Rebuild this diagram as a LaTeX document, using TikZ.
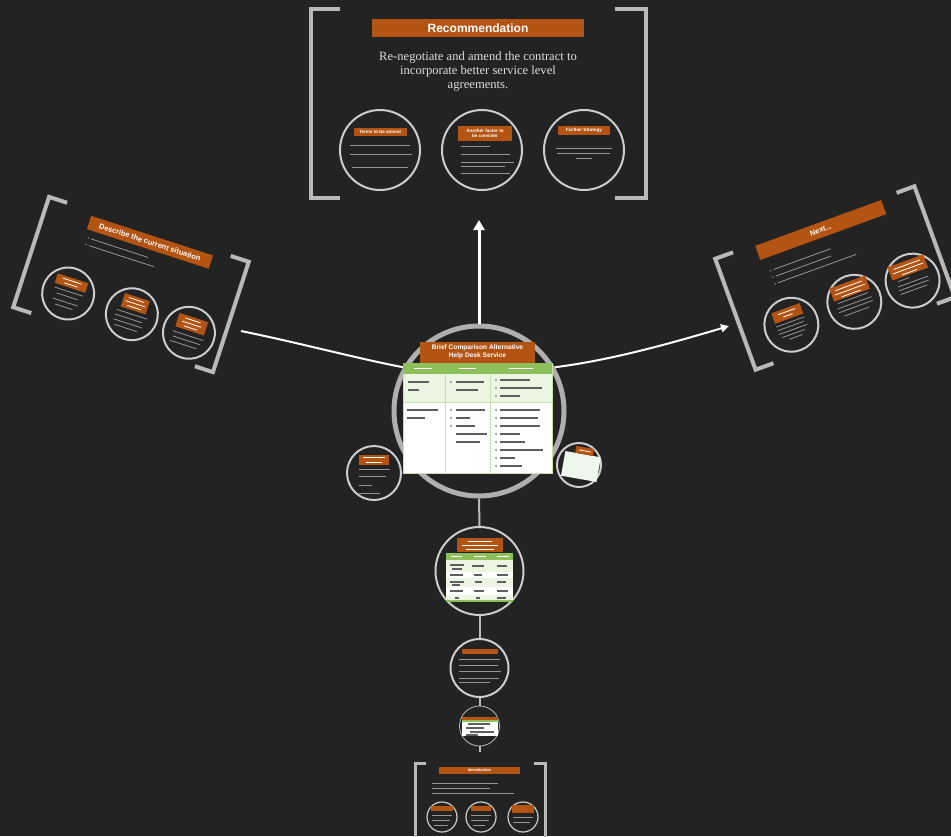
\documentclass[tikz,border=0pt]{standalone}
\usepackage{fontspec}
\setmainfont{Liberation Serif}
\setsansfont{Liberation Sans}
\usetikzlibrary{arrows.meta}
\definecolor{bg}{RGB}{35,35,35}
\definecolor{org}{RGB}{180,84,18}
\definecolor{brk}{RGB}{185,185,185}
\definecolor{ringc}{RGB}{205,205,205}
\definecolor{bigc}{RGB}{175,175,175}
\definecolor{grn}{RGB}{141,192,90}
\definecolor{lgrn}{RGB}{236,244,226}
\definecolor{lgb}{RGB}{200,225,175}
\definecolor{chalk}{RGB}{150,150,150}
\definecolor{ink}{RGB}{95,95,95}
\definecolor{body}{RGB}{222,222,222}
\definecolor{mint}{RGB}{238,246,238}
\newcommand\fs[2]{\fontsize{#1}{#2}\selectfont}
\newcommand\gl[2]{\foreach \a/\b/\c in {#2}{\draw[#1] (\a,\c) -- (\b,\c);}}
\newcommand\lab[4]{\fill[org] ({#1-#3/2},{#2-#4/2}) rectangle ({#1+#3/2},{#2+#4/2});}
\tikzset{
 brack/.style={draw=brk, line width=4pt},
 ring/.style={circle, draw=ringc, line width=2pt, minimum size=#1, inner sep=0pt},
 obar/.style={fill=org, text=white, inner sep=0pt, align=center},
 tline/.style={chalk, line width=0.8pt},
 wl/.style={white, line width=0.8pt},
 iline/.style={ink, line width=1.1pt},
 conn/.style={draw=brk, line width=2pt},
 wline/.style={draw=white, line width=2pt},
 arrw/.style={draw=white, line width=2pt, -{Triangle[width=8pt,length=8pt]}},
 arrup/.style={draw=white, line width=3pt, -{Triangle[width=11pt,length=10pt]}},
}
\begin{document}
\begin{tikzpicture}[x=1pt,y=-1pt]
\useasboundingbox (0,0) rectangle (951,836);
\fill[bg] (0,0) rectangle (951,836);
\clip (0,0) rectangle (951,836);

% ---------------- top frame: Recommendation
\draw[brack] (340,9) -- (311,9) -- (311,198) -- (340,198);
\draw[brack] (615,9) -- (646,9) -- (646,198) -- (615,198);
\node[obar, minimum width=212, minimum height=18, font=\sffamily\bfseries\fs{12}{14}] (rec) at (478,28) {Recommendation};
\node[text=body, font=\fs{12.6}{14}, align=center, inner sep=0pt] (rtxt) at (478,71) {Re-negotiate and amend the contract to\\incorporate better service level\\agreements.};
\node[ring=80] (t1) at (380,150) {};
\node[ring=80] (t2) at (482,150) {};
\node[ring=80] (t3) at (584,150) {};
\node[obar, minimum width=53, minimum height=8, font=\sffamily\bfseries\fs{4.6}{5.2}] (t1l) at (380,132) {Terms to be amend};
\node[obar, minimum width=54, minimum height=15, font=\sffamily\bfseries\fs{4.6}{5.4}] (t2l) at (485,133.5) {Another factor to\\be consider};
\node[obar, minimum width=52, minimum height=9, font=\sffamily\bfseries\fs{4.6}{5.2}] (t3l) at (584,130.5) {Further Strategy};
\gl{tline}{350/410/145, 350/412/154, 352/408/167}
\gl{tline}{461/490/146, 461/510/154, 461/514/162, 461/505/166, 461/510/173}
\gl{tline}{556/612/148, 557/610/153, 576/592/158}

% ---------------- central circle and connectors
\node[circle, draw=bigc, line width=5pt, minimum size=170, inner sep=0pt] (big) at (479,411) {};
\coordinate (up) at (479,220);
\draw[arrup] (big.north) -- (up);
\coordinate (lstart) at (241,331);
\draw[wline] (lstart) .. controls (300,343) and (355,358) .. (big.150);
\coordinate (rend) at (729,326);
\draw[arrw] (big.30) .. controls (612,360) and (672,343) .. (rend);

% ---------------- central table
\node[fill=white, draw=lgb, minimum width=149, minimum height=110, inner sep=0pt] (tab) at (477.5,418) {};
\fill[grn] (403,363) rectangle (552,374);
\fill[lgrn] (403.5,374) rectangle (551.5,402);
\draw[lgb, line width=1pt] (403,402) -- (552,402);
\draw[lgb, line width=0.8pt] (445,374) -- (445,472.5) (490,374) -- (490,472.5);
\gl{wl}{414/432/368.5, 459/476/368.5, 509/533/368.5}
\gl{iline}{408/429/382, 408/419/390}
\gl{iline}{456/484/382, 456/478/390}
\gl{iline}{500/530/380, 500/542/388, 500/520/396}
\gl{iline}{407/438/410, 407/425/418}
\gl{iline}{456/485/410, 456/470/418, 456/475/426, 456/487/434, 456/480/442}
\gl{iline}{500/540/410, 500/538/418, 500/540/426, 500/520/434, 500/525/442, 500/543/450, 500/515/458, 500/522/466}
\foreach \yy in {382} {\fill[ink] (451,\yy) circle (0.9);}
\foreach \yy in {380,388,396} {\fill[ink] (496,\yy) circle (0.9);}
\foreach \yy in {410,418,426} {\fill[ink] (451,\yy) circle (0.9);}
\foreach \yy in {410,418,426,434,442,450,458,466} {\fill[ink] (496,\yy) circle (0.9);}
\node[obar, minimum width=115, minimum height=21, font=\sffamily\bfseries\fs{6.6}{8.4}] (btitle) at (477.5,352) {Brief Comparison Alternative\\Help Desk Service};

% ---------------- side small circles
\node[ring=54] (ls) at (374,473) {};
\lab{374}{460}{30}{10}
\gl{wl}{363/385/457.5, 366/382/462}
\gl{tline}{359/390/469, 359/386/476, 359/372/485, 359/380/493}
\node[ring=44] (rs) at (579,465) {};
\begin{scope}[shift={(581,466)}, rotate=-10]
\fill[mint] (-18,-12) rectangle (18,13);
\fill[org] (-8,-19) rectangle (10,-12);
\draw[wl] (-5,-15.5) -- (7,-15.5);
\end{scope}

% ---------------- vertical chain
\node[ring=88] (comp) at (479.5,571) {};
\node[ring=58] (mid) at (479.5,668) {};
\node[circle, draw=gray!55, line width=0.8pt, minimum size=40, inner sep=0pt] (cring) at (479.5,726) {};
\node[fill=white, minimum width=36, minimum height=18, inner sep=0pt] (card) at (480,727) {};
\draw[conn] (big.south) -- (comp.north);
\draw[conn] (comp.south) -- (mid.north);
\draw[conn] (mid.south) -- (cring.north);
\coordinate (cend) at (479.5,752);
\draw[conn] (cring.south) -- (cend);
\fill[org] (462,717) rectangle (498,719.5);
\fill[grn] (462,719.5) rectangle (498,721.5);
\gl{iline}{468/490/724, 466/484/728, 470/494/732, 466/478/735}

% comparison circle contents
\lab{480}{545}{46}{14}
\gl{wl}{468/492/541, 462/498/545, 466/494/549}
\fill[white] (446,553) rectangle (513,602);
\fill[grn] (446,553) rectangle (513,560);
\fill[lgrn] (446,560) rectangle (513,572);
\fill[lgrn] (446,578) rectangle (513,587);
\fill[lgrn] (446,595) rectangle (513,600);
\fill[grn] (446,600) rectangle (513,602);
\gl{wl}{451/462/556.5, 474/486/556.5, 497/509/556.5}
\gl{iline}{450/464/565, 452/462/569, 472/484/566, 497/507/566}
\gl{iline}{450/463/575, 474/482/575, 497/508/575}
\gl{iline}{450/464/582, 452/460/585, 475/482/582, 497/506/582}
\gl{iline}{450/463/591, 474/484/591, 497/508/591}
\gl{iline}{455/459/598, 476/480/598, 497/506/598}

% middle circle contents
\lab{480}{651}{36}{5}
\gl{tline}{459/500/659, 459/498/665, 459/501/671, 459/499/678, 459/490/682}

% ---------------- bottom frame: Introduction
\draw[brack, line width=3pt] (426,763) -- (415,763) -- (415,840);
\draw[brack, line width=3pt] (534,763) -- (545,763) -- (545,840);
\node[obar, minimum width=81, minimum height=7, font=\sffamily\bfseries\fs{4}{4.5}] (intro) at (479.5,770.5) {Introduction};
\gl{tline}{432/498/783, 432/490/788, 432/514/793}
\node[ring=30, line width=1.2pt] (b1) at (442,817) {};
\node[ring=30, line width=1.2pt] (b2) at (481,817) {};
\node[ring=30, line width=1.2pt] (b3) at (523,817) {};
\lab{442}{808}{22}{5}
\lab{481}{808}{20}{5}
\lab{523}{809}{22}{8}
\gl{tline}{432/452/815, 432/450/820, 434/448/825}
\gl{tline}{471/491/815, 471/489/820, 473/485/825}
\gl{tline}{513/533/817, 513/530/822}

% ---------------- left frame: Describe the current situation
\begin{scope}[shift={(131,284.5)}, rotate=-18, transform shape]
\draw[brack] (-86,-58) -- (-105,-58) -- (-105,58) -- (-86,58);
\draw[brack] (86,-58) -- (105,-58) -- (105,58) -- (86,58);
\node[obar, minimum width=128, minimum height=14, font=\sffamily\bfseries\fs{7.5}{9}] (lft) at (5,-46) {Describe the current situation};
\gl{tline}{-52/8/-31, -52/16/-24}
\fill[chalk] (-55,-31) circle (0.8) (-55,-24) circle (0.8);
\node[ring=52] (l1) at (-57,28) {};
\node[ring=52] (l2) at (10,28) {};
\node[ring=52] (l3) at (70,28) {};
\lab{-57}{17}{32}{10}
\lab{10}{17}{26}{14}
\lab{70}{19}{30}{14}
\gl{wl}{-67/-47/15, -64/-50/19}
\gl{wl}{2/18/13, 0/20/17, 3/17/21}
\gl{wl}{62/78/15, 60/80/19, 63/77/23}
\gl{tline}{-72/-42/26, -68/-46/31, -70/-44/37, -66/-48/42}
\gl{tline}{-6/26/28, -6/22/33, -6/24/38, -4/20/43}
\gl{tline}{54/86/31, 56/84/36, 54/82/41}
\end{scope}

% ---------------- right frame: Next...
\begin{scope}[shift={(835,278)}, rotate=20, transform shape]
\draw[brack] (-87,-59) -- (-106,-59) -- (-106,59) -- (-87,59);
\draw[brack] (87,-59) -- (106,-59) -- (106,59) -- (87,59);
\node[obar, minimum width=134, minimum height=15, font=\sffamily\bfseries\fs{7.5}{9}] (nxt) at (3,-50) {Next...};
\gl{tline}{-55/6/-29, -55/4/-22, -55/28/-15}
\fill[chalk] (-58,-29) circle (0.8) (-58,-22) circle (0.8) (-58,-15) circle (0.8);
\node[ring=54] (n1) at (-57,29) {};
\node[ring=54] (n2) at (10,29) {};
\node[ring=54] (n3) at (72,29) {};
\lab{-57}{17}{30}{11}
\lab{10}{15}{38}{14}
\lab{72}{15}{38}{14}
\gl{wl}{-66/-48/15, -62/-52/19}
\gl{wl}{-4/24/12, -6/26/16, 0/20/20}
\gl{wl}{58/86/12, 56/88/16, 64/80/20}
\gl{tline}{-72/-42/26, -72/-44/30, -72/-42/34, -70/-46/38, -64/-50/42}
\gl{tline}{-6/26/25, -8/28/30, -8/28/34, -4/22/39}
\gl{tline}{58/70/25, 56/88/30, 56/88/34, 56/84/38}
\end{scope}
\end{tikzpicture}
\end{document}
